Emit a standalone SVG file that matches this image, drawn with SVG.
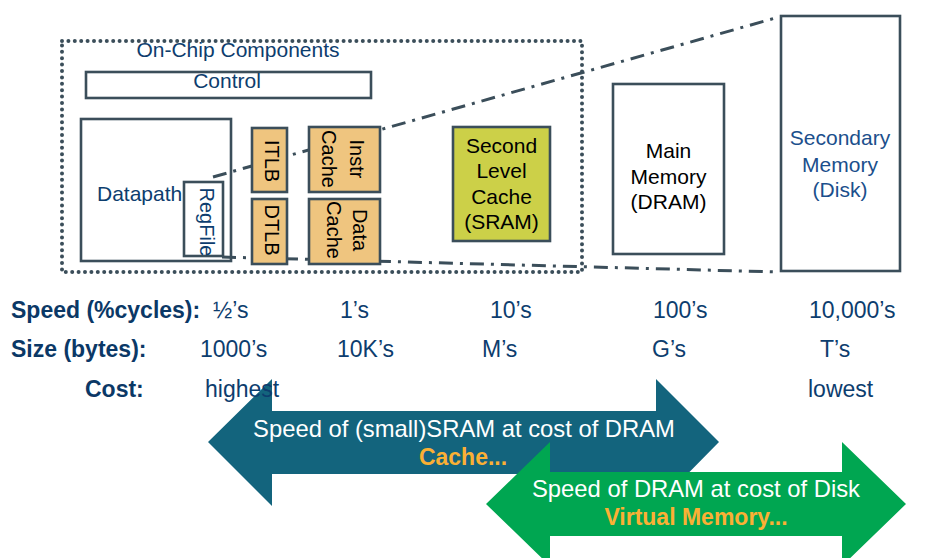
<svg xmlns="http://www.w3.org/2000/svg" width="933" height="558" viewBox="0 0 933 558">
<defs>
<style>
text{font-family:"Liberation Sans",Arial,sans-serif;}
.box{fill:#ffffff;stroke:#3b4e5a;stroke-width:2.6;}
.tlb{fill:#efc57f;stroke:#3b4e5a;stroke-width:2.6;}
.l2{fill:#ccd048;stroke:#3b4e5a;stroke-width:2.6;}
.dd{fill:none;stroke:#3b4e5a;stroke-width:3;stroke-dasharray:14 7 3 7;}
.dot{fill:none;stroke:#3b4e5a;stroke-width:4;stroke-dasharray:0 6.4;stroke-linecap:round;}
.lbl{font-size:21px;fill:#0d3d6e;}
.blk{font-size:21px;fill:#000000;}
.rot{font-size:20px;fill:#000000;text-anchor:middle;}
.row{font-size:23px;fill:#0d3d6e;}
.rowb{font-size:23px;font-weight:bold;fill:#0b3866;}
.wt{font-size:23.8px;fill:#ffffff;text-anchor:middle;}
.or{font-size:23px;font-weight:bold;fill:#fbb034;text-anchor:middle;}
</style>
</defs>
<g id="connectors">
<line class="dd" x1="213" y1="177" x2="779" y2="17"/>
<line class="dd" x1="222" y1="257" x2="778" y2="272"/>
</g>
<g id="onchip">
<rect class="dot" x="62" y="41" width="520" height="231"/>
<text class="lbl" x="238" y="57" text-anchor="middle">On-Chip Components</text>
</g>
<g id="control">
<rect class="box" x="86" y="72" width="285" height="26"/>
<text class="lbl" x="227" y="88" text-anchor="middle">Control</text>
</g>
<g id="datapath">
<rect class="box" x="81" y="119" width="150" height="142" style="fill:none"/>
<text class="lbl" x="97" y="201">Datapath</text>
</g>
<g id="regfile">
<rect class="box" x="184" y="182" width="39" height="74"/>
<text class="rot" style="fill:#0d3d6e" transform="translate(200,222) rotate(90)">RegFile</text>
</g>
<g id="itlb">
<rect class="tlb" x="252" y="128" width="35" height="64"/>
<text class="rot" transform="translate(265,161) rotate(90)">ITLB</text>
</g>
<g id="dtlb">
<rect class="tlb" x="252" y="199" width="35" height="65"/>
<text class="rot" transform="translate(265,230) rotate(90)">DTLB</text>
</g>
<g id="icache">
<rect class="tlb" x="309" y="127" width="71" height="65"/>
<text class="rot" transform="translate(350,159) rotate(90)">Instr</text>
<text class="rot" transform="translate(322,159) rotate(90)">Cache</text>
</g>
<g id="dcache">
<rect class="tlb" x="309" y="199" width="71" height="65"/>
<text class="rot" transform="translate(353,230) rotate(90)">Data</text>
<text class="rot" transform="translate(327,230) rotate(90)">Cache</text>
</g>
<g id="l2cache">
<rect class="l2" x="453" y="127" width="97" height="114"/>
<text class="blk" text-anchor="middle" x="501.5" y="153">Second</text>
<text class="blk" text-anchor="middle" x="501.5" y="178">Level</text>
<text class="blk" text-anchor="middle" x="501.5" y="204">Cache</text>
<text class="blk" text-anchor="middle" x="501.5" y="229">(SRAM)</text>
</g>
<g id="mainmem">
<rect class="box" x="613" y="84" width="111" height="170"/>
<text class="blk" text-anchor="middle" x="668.5" y="158">Main</text>
<text class="blk" text-anchor="middle" x="668.5" y="184">Memory</text>
<text class="blk" text-anchor="middle" x="668.5" y="209">(DRAM)</text>
</g>
<g id="secmem">
<rect class="box" x="781" y="16" width="119" height="255"/>
<text class="lbl" style="fill:#1b4f8c" text-anchor="middle" x="840" y="145">Secondary</text>
<text class="lbl" style="fill:#1b4f8c" text-anchor="middle" x="840" y="172">Memory</text>
<text class="lbl" style="fill:#1b4f8c" text-anchor="middle" x="840" y="197">(Disk)</text>
</g>
<g id="cache-arrow">
<polygon fill="#13647d" points="208,442 272,379 272,411 656,411 656,379 719,442 656,506 656,474 272,474 272,506"/>
<text class="wt" x="464" y="437">Speed of (small)SRAM at cost of DRAM</text>
<text class="or" x="463" y="465">Cache...</text>
</g>
<g id="vm-arrow">
<polygon fill="#00a651" points="486,504 550,442 550,472 842,472 842,442 906,504 842,566 842,536 550,536 550,566"/>
<text class="wt" x="696" y="497">Speed of DRAM at cost of Disk</text>
<text class="or" x="696" y="525">Virtual Memory...</text>
</g>
<g id="table">
<text class="rowb" x="11" y="318">Speed (%cycles):</text>
<text class="row" x="213" y="318">½’s</text>
<text class="row" x="340" y="318">1’s</text>
<text class="row" x="490" y="318">10’s</text>
<text class="row" x="653" y="318">100’s</text>
<text class="row" x="809" y="318">10,000’s</text>
<text class="rowb" x="11" y="357">Size (bytes):</text>
<text class="row" x="200" y="357">1000’s</text>
<text class="row" x="337" y="357">10K’s</text>
<text class="row" x="482" y="357">M’s</text>
<text class="row" x="652" y="357">G’s</text>
<text class="row" x="820" y="357">T’s</text>
<text class="rowb" x="85" y="397">Cost:</text>
<text class="row" x="205" y="397">highest</text>
<text class="row" x="808" y="397">lowest</text>
</g>
</svg>
